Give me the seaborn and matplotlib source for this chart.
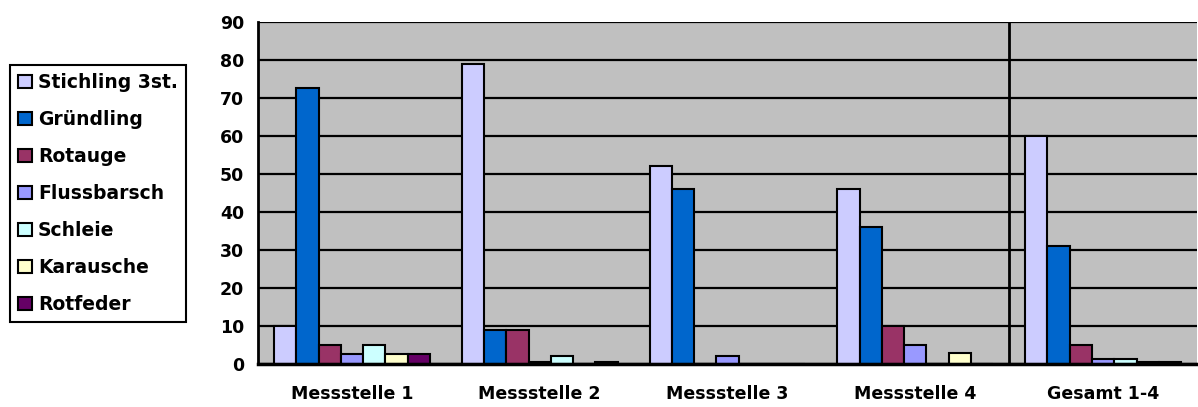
import matplotlib
matplotlib.use("Agg")
import matplotlib.pyplot as plt
from matplotlib.patches import Patch
from matplotlib.ticker import FixedLocator
import seaborn as sns
import pandas as pd

# Fish catch per sampling site (percent of individuals)
sites = ["Messstelle 1", "Messstelle 2", "Messstelle 3", "Messstelle 4", "Gesamt 1-4"]
species = ["Stichling 3st.", "Gründling", "Rotauge", "Flussbarsch",
           "Schleie", "Karausche", "Rotfeder"]

stichling = [10, 79, 52, 46, 60]
gruendling = [72.5, 9, 46, 36, 31]
rotauge = [5, 9, 0, 10, 5]
flussbarsch = [2.5, 0.5, 2, 5, 1.2]
schleie = [5, 2, 0, 0, 1.2]
karausche = [2.5, 0, 0, 3, 0.5]
rotfeder = [2.5, 0.5, 0, 0, 0.5]

colors = ["#CCCCFF", "#0066CC", "#993366", "#9999FF",
          "#CCFFFF", "#FFFFCC", "#660066"]

series = [stichling, gruendling, rotauge, flussbarsch, schleie, karausche, rotfeder]
rows = []
for name, vals in zip(species, series):
    for site, v in zip(sites, vals):
        rows.append({"Messstelle": site, "Art": name, "Wert": v})
df = pd.DataFrame(rows)

sns.set_style("white")
plt.rcParams["font.family"] = ["DejaVu Sans"]
plt.rcParams["font.weight"] = "bold"
plt.rcParams["text.color"] = "black"
plt.rcParams["xtick.color"] = "black"
plt.rcParams["ytick.color"] = "black"
plt.rcParams["xtick.labelcolor"] = "black"
plt.rcParams["ytick.labelcolor"] = "black"

fig = plt.figure(figsize=(11.98, 4.07), dpi=100)
ax = fig.add_axes([0.2154, 0.1057, 0.7838, 0.8403])
ax.set_facecolor("#C0C0C0")

sns.barplot(data=df, x="Messstelle", y="Wert", hue="Art",
            order=sites, hue_order=species, palette=colors,
            saturation=1, width=0.83, edgecolor="black", linewidth=1.5,
            errorbar=None, legend=False, ax=ax, zorder=3)

ax.set_xlim(-0.5, 4.5)
ax.set_ylim(0, 90)
ax.set_yticks(range(0, 91, 10))
ax.set_xlabel("")
ax.set_ylabel("")

ax.set_axisbelow(True)
ax.yaxis.grid(True, color="black", linewidth=1.6)
ax.xaxis.grid(False)

# separator between individual sites and the total
ax.axvline(3.5, color="black", linewidth=2, zorder=2)

for side in ["top", "right"]:
    ax.spines[side].set_visible(False)
ax.spines["left"].set_color("black")
ax.spines["left"].set_linewidth(2)
ax.spines["bottom"].set_color("black")
ax.spines["bottom"].set_linewidth(2.5)
ax.spines["bottom"].set_zorder(5)

ax.tick_params(axis="y", which="major", direction="out", length=6,
               width=1.6, color="black", labelcolor="black",
               labelsize=12.5, pad=4)
ax.xaxis.set_minor_locator(FixedLocator([-0.5, 0.5, 1.5, 2.5, 3.5]))
ax.tick_params(axis="x", which="minor", direction="out", length=5,
               width=1.6, color="black")
ax.tick_params(axis="x", which="major", length=0, labelcolor="black",
               labelsize=12.5, pad=15)
for lab in ax.get_xticklabels() + ax.get_yticklabels():
    lab.set_fontweight("bold")
    lab.set_color("black")

handles = [Patch(facecolor=c, edgecolor="black", linewidth=1.5) for c in colors]
leg = fig.legend(handles, species, loc="center left",
                 bbox_to_anchor=(0.0083, 0.5246),
                 prop={"weight": "bold", "size": 13.5},
                 frameon=True, fancybox=False, framealpha=1,
                 edgecolor="black", borderpad=0.45, labelspacing=0.96,
                 handlelength=0.7, handleheight=0.7, handletextpad=0.35,
                 borderaxespad=0)
leg.get_frame().set_linewidth(1.5)
for t in leg.get_texts():
    t.set_color("black")

fig.savefig("out.png", dpi=100, facecolor="white")
